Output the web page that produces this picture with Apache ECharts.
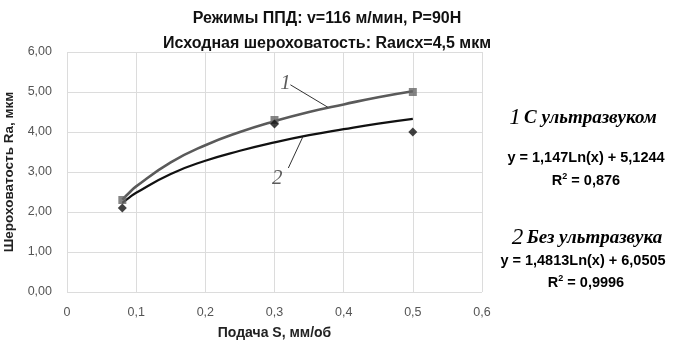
<!DOCTYPE html>
<html>
<head>
<meta charset="utf-8">
<script src="https://cdn.jsdelivr.net/npm/echarts@6/dist/echarts.min.js"></script>
<style>
  html, body { margin: 0; padding: 0; background: #fff; }
  #chart { width: 690px; height: 345px; }
</style>
</head>
<body>
<div id="chart"></div>
<script>
'use strict';

// измеренные точки
var feedS = [0.08, 0.3, 0.5];
var withUltrasound = [2.3, 4.3, 5.0];     // 1 - квадраты
var withoutUltrasound = [2.1, 4.2, 4.0];  // 2 - ромбы

// линии тренда
var trendX = [0.08, 0.09, 0.1, 0.15, 0.2, 0.25, 0.3, 0.35, 0.4, 0.45, 0.5];
var trend1 = [2.31, 2.48, 2.64, 3.24, 3.67, 4.00, 4.27, 4.50, 4.69, 4.87, 5.02];
var trend2 = [2.23, 2.36, 2.48, 2.95, 3.28, 3.53, 3.74, 3.92, 4.07, 4.21, 4.33];

// выноски "1" и "2"
var leaderLabels = ['1', '2'];
var leaderText = [[0.316, 5.22], [0.304, 2.85]];
var leaderFrom = [[0.323, 5.18], [0.320, 3.10]];
var leaderTo = [[0.377, 4.62], [0.341, 3.88]];

var xTicks = ['0', '0,1', '0,2', '0,3', '0,4', '0,5', '0,6'];

function pairs(xs, ys) {
    var out = [];
    for (var i = 0; i < xs.length; i++) {
        out.push([xs[i], ys[i]]);
    }
    return out;
}

var fmtY = function (v) { return v.toFixed(2).replace('.', ','); };
var fmtX = function (v) { return xTicks[Math.round(v * 10)]; };

var leaderLines = [];
var leaderPoints = [];
for (var i = 0; i < leaderLabels.length; i++) {
    leaderLines.push([{coord: leaderFrom[i]}, {coord: leaderTo[i]}]);
    leaderPoints.push({name: leaderLabels[i], value: leaderText[i]});
}

var capRich = {
    n: {fontFamily: 'Liberation Serif', fontStyle: 'italic', fontSize: 23, color: '#333'},
    t: {fontFamily: 'Liberation Serif', fontStyle: 'italic', fontWeight: 'bold', fontSize: 19, color: '#333'}
};
var eqRich = {
    b: {fontFamily: 'Liberation Sans', fontWeight: 'bold', fontSize: 14.5, color: '#111'},
    s: {fontFamily: 'Liberation Sans', fontWeight: 'bold', fontSize: 9, color: '#111', verticalAlign: 'top', padding: [0, 0, 9, 0]}
};

function note(x, y, text, rich) {
    return {type: 'text', x: x, y: y, style: {text: text, rich: rich, align: 'center', verticalAlign: 'middle'}};
}

var option = {
    animation: false,
    backgroundColor: '#fff',
    title: {
        text: 'Режимы ППД: v=116 м/мин, P=90H\nИсходная шероховатость: Raисх=4,5 мкм',
        left: 322,
        top: 1,
        textAlign: 'center',
        textStyle: {fontFamily: 'Liberation Sans', fontWeight: 'bold', fontSize: 16, color: '#111', lineHeight: 25}
    },
    grid: {left: 67, right: 208, top: 52, bottom: 53, outerBoundsMode: 'none', containLabel: false},
    xAxis: {
        type: 'value',
        min: 0, max: 0.6, interval: 0.1,
        name: 'Подача S, мм/об',
        nameLocation: 'middle',
        nameGap: 34,
        nameTextStyle: {fontFamily: 'Liberation Sans', fontWeight: 'bold', fontSize: 14, color: '#222'},
        axisLine: {show: false},
        axisTick: {show: false},
        axisLabel: {formatter: fmtX, fontFamily: 'Liberation Sans', fontSize: 12.5, color: '#555', margin: 14},
        splitLine: {show: true, lineStyle: {color: '#dcdcdc', width: 1}}
    },
    yAxis: {
        type: 'value',
        min: 0, max: 6, interval: 1,
        name: 'Шероховатость Ra, мкм',
        nameLocation: 'middle',
        nameGap: 46,
        nameTextStyle: {fontFamily: 'Liberation Sans', fontWeight: 'bold', fontSize: 13.5, color: '#222'},
        axisLine: {show: false},
        axisTick: {show: false},
        axisLabel: {formatter: fmtY, fontFamily: 'Liberation Sans', fontSize: 12.5, color: '#555', margin: 15},
        splitLine: {show: true, lineStyle: {color: '#dcdcdc', width: 1}}
    },
    series: [
        {
            name: 'trend1',
            type: 'line',
            smooth: true,
            symbol: 'none',
            data: pairs(trendX, trend1),
            lineStyle: {color: '#5a5a5a', width: 2.6}
        },
        {
            name: 'trend2',
            type: 'line',
            smooth: true,
            symbol: 'none',
            data: pairs(trendX, trend2),
            lineStyle: {color: '#111', width: 2.2}
        },
        {
            name: 'С ультразвуком',
            type: 'scatter',
            symbol: 'rect',
            symbolSize: 8,
            data: pairs(feedS, withUltrasound),
            itemStyle: {color: '#666'},
            z: 5
        },
        {
            name: 'Без ультразвука',
            type: 'scatter',
            symbol: 'diamond',
            symbolSize: 9,
            data: pairs(feedS, withoutUltrasound),
            itemStyle: {color: '#111'},
            z: 5
        },
        {
            name: 'leaders',
            type: 'scatter',
            symbolSize: 0,
            data: leaderPoints,
            label: {
                show: true,
                position: 'inside',
                formatter: '{b}',
                fontFamily: 'Liberation Serif',
                fontStyle: 'italic',
                fontSize: 21,
                color: '#333'
            },
            markLine: {
                symbol: 'none',
                silent: true,
                label: {show: false},
                lineStyle: {color: '#333', width: 1, type: 'solid'},
                data: leaderLines
            }
        }
    ],
    graphic: [
        note(583, 118, '{n|1} {t|С ультразвуком}', capRich),
        note(586, 158, '{b|y = 1,147Ln(x) + 5,1244}', eqRich),
        note(586, 181, '{b|R}{s|2}{b| = 0,876}', eqRich),
        note(587, 238, '{n|2} {t|Без ультразвука}', capRich),
        note(583, 261, '{b|y = 1,4813Ln(x) + 6,0505}', eqRich),
        note(586, 283, '{b|R}{s|2}{b| = 0,9996}', eqRich)
    ]
};

var myChart = echarts.init(document.getElementById('chart'));
myChart.setOption(option);
</script>
</body>
</html>
